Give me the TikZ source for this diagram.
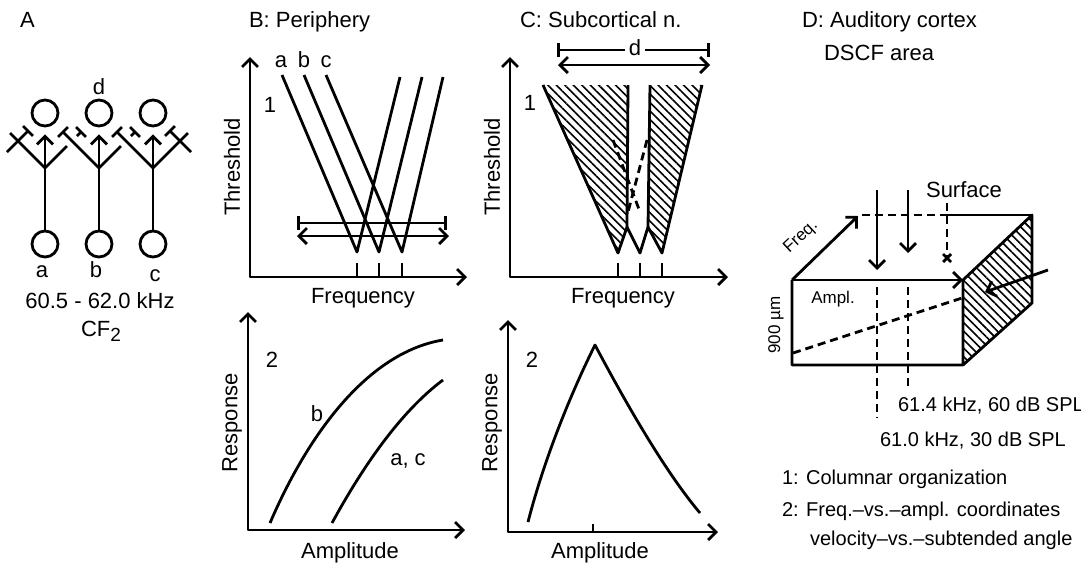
\documentclass[tikz,border=0pt]{standalone}
\usepackage{fontspec}
\setmainfont{Liberation Sans}
\usetikzlibrary{arrows.meta,patterns.meta}
\tikzset{
  ink/.style={line width=1.4pt, line join=round},
  axes/.style={ink, {Straight Barb[length=4pt,width=8pt]}-{Straight Barb[length=4pt,width=8pt]}},
  dimarrow/.style={ink, {Straight Barb[length=4pt,width=8pt]}-{Straight Barb[length=4pt,width=8pt]}},
  dimbar/.style={ink, {Bar[width=7pt]}-{Bar[width=7pt]}},
  excit/.style={ink, -{Straight Barb[length=4pt,width=8pt]}},
  inhib/.style={ink, -{Bar[width=7pt]}},
  cell/.style={circle, draw, line width=1.4pt, minimum size=13pt, inner sep=0pt},
  hatch/.style={pattern={Lines[angle=-45,distance=3pt,line width=.8pt]}},
  hidden/.style={ink, dash pattern=on 4pt off 2.5pt},
  lbl/.style={font=\fontsize{11}{13}\selectfont},
  note/.style={font=\fontsize{10}{12}\selectfont},
  minor/.style={font=\fontsize{8.5}{10}\selectfont},
}
\begin{document}
\begin{tikzpicture}[x=0.5pt,y=-0.5pt]
  \useasboundingbox (0,0) rectangle (1081,564);

  % A: three columns with lateral inhibition
  \node[lbl, anchor=base west] (labA) at (13,27) {A};
  \foreach \n/\x in {a/45,b/99,c/153}{
    \node[cell] (low\n) at (\x,244) {};
    \node[cell] (top\n) at (\x,113) {};
    \coordinate (fork\n) at (\x,168);
    \draw[excit, shorten >=3.5pt] (low\n) -- (top\n);
  }
  \node[lbl, anchor=base] (topd) at (99,94) {d};

  % Ends of the side branches.
  \coordinate (offl) at (10,133);  \coordinate (farl) at (7,152);  \coordinate (syla) at (29,130);
  \coordinate (gapa) at (67,146);  \coordinate (goab) at (77,136); \coordinate (syrb) at (82,131);
  \coordinate (syra) at (62,131);
  \coordinate (gapb) at (121,146); \coordinate (gobc) at (131,136); \coordinate (sylc) at (136,131);
  \coordinate (sylb) at (116,131);
  \coordinate (offr) at (188,133); \coordinate (farr) at (191,152); \coordinate (syrc) at (169,130);

  \draw[ink] (forka) -- (offl);
  \draw[inhib] (farl) -- (syla);
  \draw[ink] (forka) -- (gapa);
  \draw[inhib] (goab) -- (syrb);
  \draw[inhib] (forkb) -- (syra);
  \draw[ink] (forkb) -- (gapb);
  \draw[inhib] (gobc) -- (sylc);
  \draw[inhib] (forkc) -- (sylb);
  \draw[ink] (forkc) -- (offr);
  \draw[inhib] (farr) -- (syrc);

  \node[lbl, anchor=base] (txta) at (42,277) {a};
  \node[lbl, anchor=base] (txtb) at (96,277) {b};
  \node[lbl, anchor=base] (txtc) at (155,281) {c};
  \node[lbl, anchor=base] (range) at (100,308) {60.5 - 62.0 kHz};
  \node[lbl, anchor=base] (cfname) at (101,336) {CF\raisebox{-2.5pt}{\fontsize{9.5}{10}\selectfont 2}};

  % B: periphery
  \node[lbl, anchor=base west] (labB) at (242,27) {B: Periphery};
  \draw[axes] (250,57) -- (250,277) -- (467,277);
  \node[lbl, rotate=90] (thrB) at (232,167) {Threshold};
  \node[lbl, anchor=base] (frqB) at (363,303) {Frequency};
  \node[lbl, anchor=base] (oneB) at (270,112) {1};
  \node[lbl, anchor=base] (curva) at (281,67) {a};
  \node[lbl, anchor=base] (curvb) at (304,67) {b};
  \node[lbl, anchor=base] (curvc) at (326,67) {c};
  \foreach \l/\t/\r in {282/357/400, 304/379/422, 326/402/443}{
    \draw[ink] (\l,75) -- (\t,252) -- (\r,77);
    \draw[ink] (\t,263) -- (\t,277);
  }
  \draw[dimbar] (297,223) -- (447,223);
  \draw[dimarrow] (297,236) -- (449,236);

  \draw[axes] (248,312) -- (248,530) -- (465,530);
  \node[lbl, rotate=90] (rspB) at (232,423) {Response};
  \node[lbl, anchor=base] (ampB) at (350,558) {Amplitude};
  \node[lbl, anchor=base] (twoB) at (272,367) {2};
  \draw[ink] (270,523) .. controls (310,430) and (370,352) .. (443,340);
  \draw[ink] (332,523) .. controls (362,468) and (400,412) .. (443,380);
  \node[lbl, anchor=base] (respb) at (317,421) {b};
  \node[lbl, anchor=base] (respac) at (408,465) {a, c};

  % C: subcortical nucleus, sharpened tuning
  \node[lbl, anchor=base west] (labC) at (513,27) {C: Subcortical n.};
  \draw[axes] (510,57) -- (510,277) -- (728,277);
  \node[lbl, rotate=90] (thrC) at (492,167) {Threshold};
  \node[lbl, anchor=base] (frqC) at (623,303) {Frequency};
  \node[lbl, anchor=base] (oneC) at (530,110) {1};
  \draw[dimbar] (557,50) -- (710,50);
  \node[lbl, fill=white, inner sep=2pt] (dC) at (635,48) {d};
  \draw[dimarrow] (558,65) -- (710,65);

  \fill[hatch] (543,85) -- (618,253) -- (627,227) -- (628,85) -- cycle;
  \fill[hatch] (650,85) -- (648,227) -- (662,253) -- (702,85) -- cycle;
  \draw[ink] (543,85) -- (618,253) -- (627,227) -- (640,253) -- (648,227) -- (662,253) -- (702,85);
  \draw[ink] (627,227) -- (628,85) (648,227) -- (650,85);
  \draw[hidden] (613,140) -- (640,212);
  \draw[hidden] (647,140) -- (628,212);
  \foreach \t in {618,640,662}
    \draw[ink] (\t,263) -- (\t,277);

  \draw[axes] (508,320) -- (508,532) -- (718,532);
  \draw[ink] (593,524) -- (593,532);
  \node[lbl, rotate=90] (rspC) at (492,423) {Response};
  \node[lbl, anchor=base] (ampC) at (600,558) {Amplitude};
  \node[lbl, anchor=base] (twoC) at (532,367) {2};
  \draw[ink] (528,522) .. controls (546,452) and (575,385) .. (595,345)
             .. controls (620,392) and (662,468) .. (700,513);

  % D: auditory cortex, DSCF area as a block
  \node[lbl, anchor=base west] (labD) at (795,27) {D: Auditory cortex};
  \node[lbl, anchor=base west] (labD2) at (817,60) {DSCF area};

  \coordinate (ftl) at (792,280); \coordinate (ftr) at (963,280);
  \coordinate (fbl) at (792,365); \coordinate (fbr) at (963,365);
  \coordinate (btr) at (1032,215); \coordinate (bbr) at (1032,303);
  \coordinate (btl) at (858,216);

  \fill[hatch] (ftr) -- (btr) -- (bbr) -- (fbr) -- cycle;
  \draw[ink] (ftl) -- (fbl) -- (fbr) -- (ftr) -- (btr) -- (bbr) -- (fbr);
  \draw[excit] (ftl) -- (ftr);
  \draw[excit] (ftl) -- (btl);
  \draw[hidden] (862,215) -- (945,215);
  \draw[ink] (945,215) -- (btr);
  \draw[hidden] (793,353) -- (962,298);

  \draw[excit] (877,190) -- (877,270);
  \draw[excit] (908,190) -- (908,253);
  \draw[hidden] (947,203) -- (947,256);
  \draw[ink] (943,254) -- (951,262) (951,254) -- (943,262);
  \draw[hidden] (877,287) -- (877,418);
  \draw[hidden] (908,287) -- (908,390);
  \draw[excit] (1048,270) -- (985,292);

  \node[lbl, anchor=base west] (surf) at (919,197) {Surface};
  \node[minor, rotate=43] (freqD) at (801,237) {Freq.};
  \node[minor, anchor=base] (amplD) at (833,303) {Ampl.};
  \node[minor, rotate=90] (depth) at (776,325) {900 µm};
  \node[note, anchor=base west] (siteb) at (891,411) {61.4 kHz, 60 dB SPL};
  \node[note, anchor=base west] (sitea) at (873,446) {61.0 kHz, 30 dB SPL};
  \node[note, anchor=base west] (keyone) at (775,484) {1: Columnar organization};
  \node[note, anchor=base west] (keytwo) at (775,516) {2: Freq.--vs.--ampl. coordinates};
  \node[note, anchor=base west] (keythree) at (803,545) {velocity--vs.--subtended angle};
\end{tikzpicture}
\end{document}
